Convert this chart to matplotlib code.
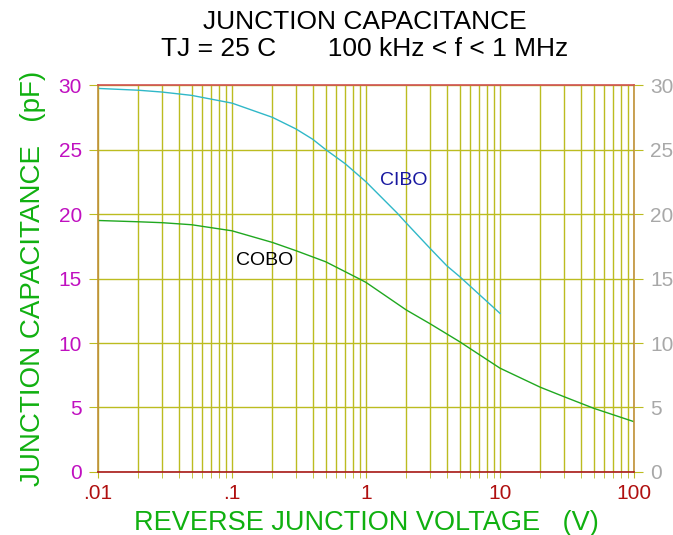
import numpy as np
import matplotlib
matplotlib.use("Agg")
import matplotlib.pyplot as plt
from matplotlib.ticker import FixedLocator, NullFormatter

plt.rcParams['font.family'] = ['Liberation Sans', 'DejaVu Sans']

# data
cibo_v = [0.01, 0.02, 0.03, 0.05, 0.1, 0.2, 0.3, 0.4, 0.5, 0.7, 1, 1.7, 2, 3, 4, 5, 10]
cibo_c = [29.74, 29.6, 29.46, 29.2, 28.6, 27.5, 26.6, 25.8, 25.0, 23.9, 22.5, 20.1,
          19.3, 17.35, 16.0, 15.15, 12.3]

cobo_v = [0.01, 0.02, 0.03, 0.05, 0.1, 0.2, 0.3, 0.5, 0.9, 1, 2, 3, 5, 10, 20, 30, 50, 100]
cobo_c = [19.5, 19.4, 19.33, 19.17, 18.7, 17.8, 17.16, 16.3, 14.95, 14.7, 12.56,
          11.5, 10.1, 8.05, 6.57, 5.84, 4.94, 3.9]

x_ticks = [0.01, 0.1, 1, 10, 100]
x_labels = ['.01', '.1', '1', '10', '100']
y_ticks = [0, 5, 10, 15, 20, 25, 30]

grid_col = '#bcbc20'

fig = plt.figure(figsize=(6.73, 5.35), dpi=100)
ax = fig.add_axes([0.1456, 0.1178, 0.7964, 0.7232])

ax.set_xscale('log')
ax.set_xlim(0.01, 100)
ax.set_ylim(0, 30)

# minor grid lines 2..9 per decade
minors = [m * 10.0**d for d in range(-2, 2) for m in range(2, 10)]
ax.xaxis.set_major_locator(FixedLocator(x_ticks))
ax.xaxis.set_minor_locator(FixedLocator(minors))
ax.xaxis.set_minor_formatter(NullFormatter())
ax.set_xticklabels(x_labels)
ax.set_yticks(y_ticks)
ax.grid(True, which='both', axis='x', color=grid_col, lw=1)
ax.grid(True, which='major', axis='y', color=grid_col, lw=1)
ax.set_axisbelow(True)

ax.tick_params(axis='x', which='both', direction='out', length=4.5, color=grid_col,
               labelcolor='#b01010', labelsize=15, pad=4)
ax.tick_params(axis='y', which='major', direction='out', length=6.5, color=grid_col,
               labelcolor='#c010c0', labelsize=15, right=True, labelright=True, pad=5)
for t in ax.yaxis.get_major_ticks():
    t.label2.set_color('#a8a8a8')

ax.spines['left'].set_color('#c09038')
ax.spines['right'].set_color('#c09038')
ax.spines['top'].set_color('#d05050')
ax.spines['bottom'].set_color('#a81818')
for s in ax.spines.values():
    s.set_linewidth(1.2)

ax.plot(cibo_v, cibo_c, color='#30b8c8', lw=1)
ax.plot(cobo_v, cobo_c, color='#20a820', lw=1)

ax.text(1.92, 22.6, 'CIBO', color='#1818a0', fontsize=14, ha='center', va='center')
ax.text(0.176, 16.36, 'COBO', color='black', fontsize=14, ha='center', va='center')

fig.text(0.542, 0.958, 'JUNCTION CAPACITANCE', ha='center', va='center', fontsize=19)
fig.text(0.542, 0.908, 'TJ = 25 C       100 kHz < f < 1 MHz', ha='center', va='center', fontsize=19)

ax.set_xlabel('REVERSE JUNCTION VOLTAGE   (V)', color='#10b010', fontsize=19.5, labelpad=5)
ax.set_ylabel('JUNCTION CAPACITANCE   (pF)', color='#10b010', fontsize=20, labelpad=9)

fig.savefig('out.png', dpi=100)
